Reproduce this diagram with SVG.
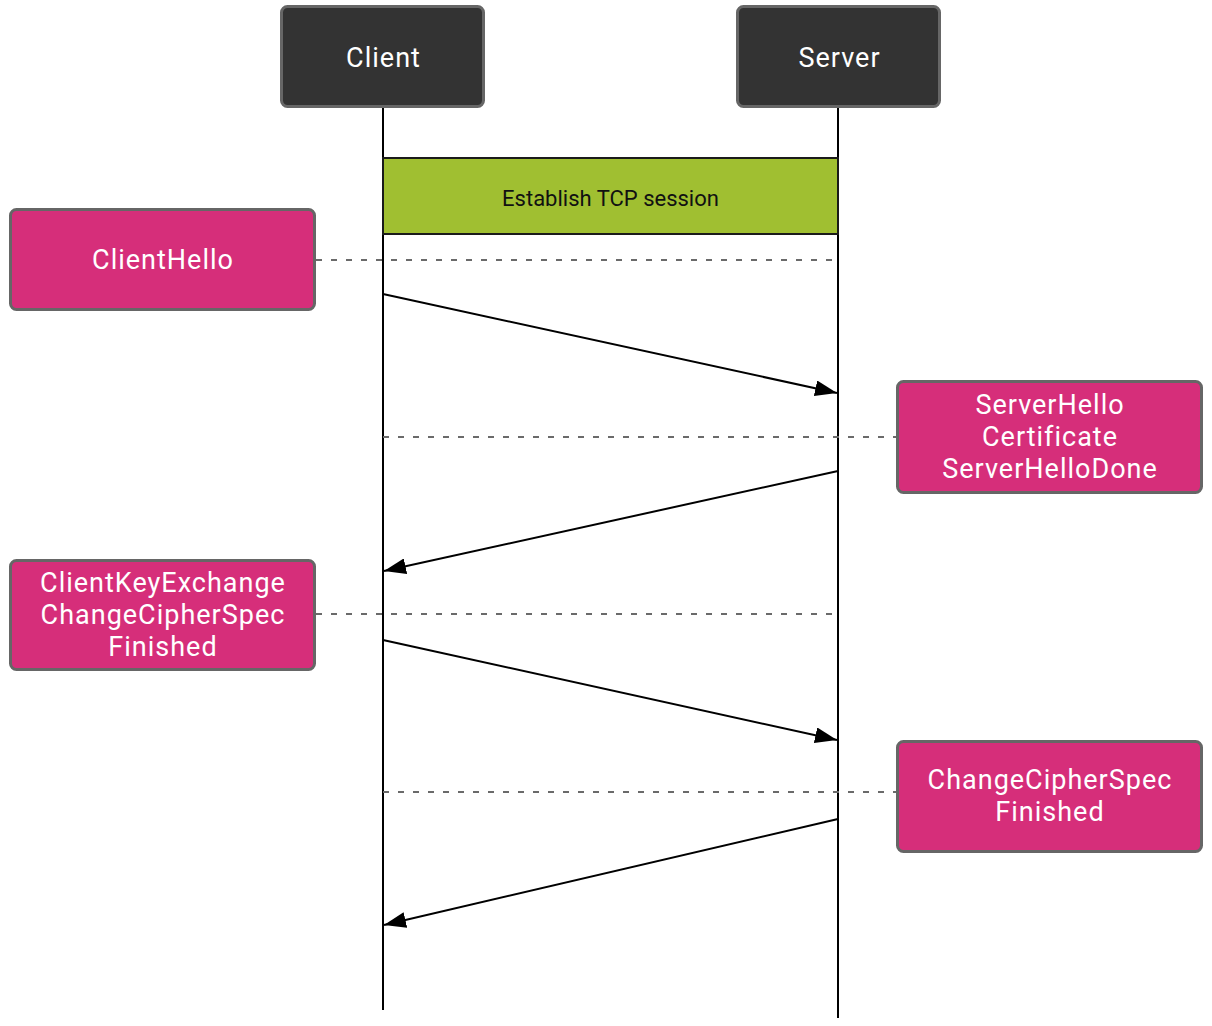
<svg xmlns="http://www.w3.org/2000/svg" width="1212" height="1026" viewBox="0 0 1212 1026">
<style>
.actor{fill:#333333;stroke:#666666;stroke-width:3}
.actor-t{fill:#ffffff;font-family:Roboto,"Liberation Sans",sans-serif;font-size:27px;letter-spacing:1px;text-anchor:middle}
.note{fill:#d62e7a;stroke:#666666;stroke-width:3}
.note-t{fill:#ffffff;font-family:Roboto,"Liberation Sans",sans-serif;font-size:27px;letter-spacing:1px;text-anchor:middle}
.life{stroke:#000000;stroke-width:2;fill:none}
.dash{stroke:#6a6a6a;stroke-width:2;stroke-dasharray:6 9;fill:none}
.msg{stroke:#000000;stroke-width:2;fill:none;marker-end:url(#ah)}
</style>
<defs>
<marker id="ah" viewBox="0 0 22 16" refX="22" refY="8" markerWidth="22" markerHeight="16" markerUnits="userSpaceOnUse" orient="auto">
<path d="M0,0 L22,8 L0,16 Z" fill="#000000"/>
</marker>
</defs>
<g id="lifelines">
<line class="life" x1="383" y1="107" x2="383" y2="1010"/>
<line class="life" x1="838" y1="107" x2="838" y2="1018"/>
</g>
<g id="client">
<rect class="actor" x="281.5" y="6.5" width="202" height="100" rx="6"/>
<text class="actor-t" x="383.5" y="67">Client</text>
</g>
<g id="server">
<rect class="actor" x="737.5" y="6.5" width="202" height="100" rx="6"/>
<text class="actor-t" x="839.5" y="67">Server</text>
</g>
<g id="tcp">
<rect x="383" y="158" width="455" height="76" fill="#a0bf31" stroke="#1a1a1a" stroke-width="2"/>
<text x="610.5" y="206" fill="#111111" font-family="Roboto,'Liberation Sans',sans-serif" font-size="22" text-anchor="middle">Establish TCP session</text>
</g>
<g id="connectors">
<line class="dash" x1="316" y1="260" x2="838" y2="260"/>
<line class="msg" x1="383" y1="294" x2="837" y2="393"/>
<line class="dash" x1="383" y1="437" x2="897" y2="437"/>
<line class="msg" x1="838" y1="471" x2="384" y2="571"/>
<line class="dash" x1="316" y1="614" x2="838" y2="614"/>
<line class="msg" x1="383" y1="640" x2="837" y2="740"/>
<line class="dash" x1="383" y1="792" x2="897" y2="792"/>
<line class="msg" x1="838" y1="819" x2="384" y2="925"/>
</g>
<g id="clienthello">
<rect class="note" x="10.5" y="209.5" width="304" height="100" rx="6"/>
<text class="note-t" x="163" y="269">ClientHello</text>
</g>
<g id="serverhello">
<rect class="note" x="897.5" y="381.5" width="304" height="111" rx="6"/>
<text class="note-t" x="1050" y="414">ServerHello</text>
<text class="note-t" x="1050" y="446">Certificate</text>
<text class="note-t" x="1050" y="478">ServerHelloDone</text>
</g>
<g id="clientkeyexchange">
<rect class="note" x="10.5" y="560.5" width="304" height="109" rx="6"/>
<text class="note-t" x="163" y="592">ClientKeyExchange</text>
<text class="note-t" x="163" y="624">ChangeCipherSpec</text>
<text class="note-t" x="163" y="656">Finished</text>
</g>
<g id="serverfinished">
<rect class="note" x="897.5" y="741.5" width="304" height="110" rx="6"/>
<text class="note-t" x="1050" y="789">ChangeCipherSpec</text>
<text class="note-t" x="1050" y="821">Finished</text>
</g>
</svg>
